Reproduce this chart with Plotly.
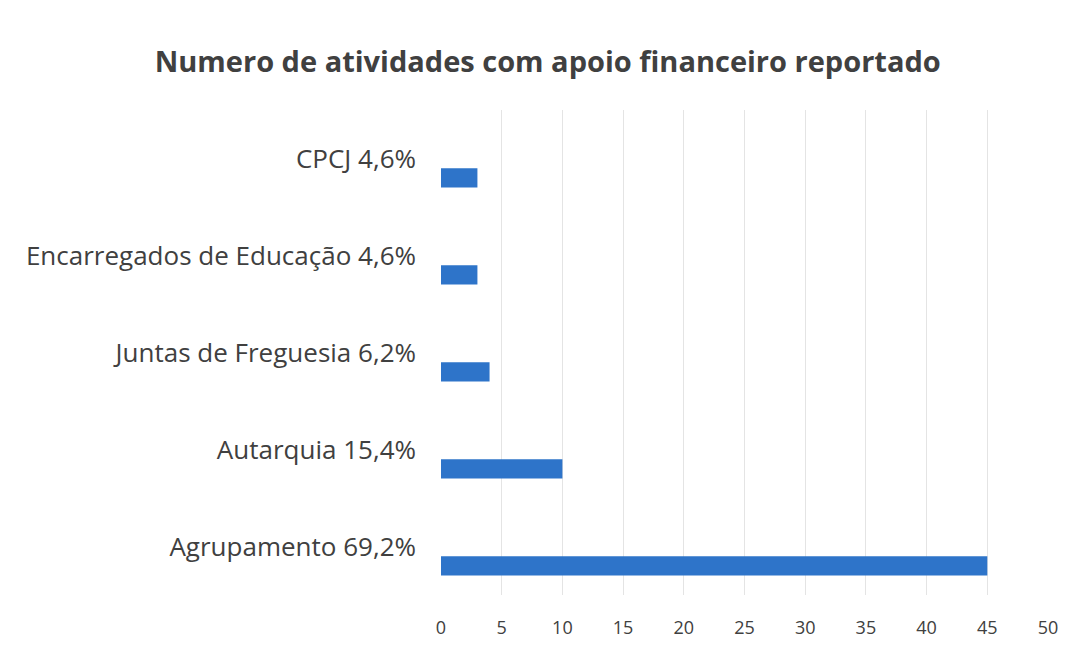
import plotly.graph_objects as go

categories = ["Agrupamento 69,2%", "Autarquia 15,4%", "Juntas de Freguesia 6,2%",
              "Encarregados de Educação 4,6%", "CPCJ 4,6%"]
values = [45, 10, 4, 3, 3]
x_ticks = [0, 5, 10, 15, 20, 25, 30, 35, 40, 45, 50]

fig = go.Figure(go.Bar(
    x=values, y=categories, orientation="h",
    marker=dict(color="#2e74c9", line=dict(width=0)),
    width=0.2, offset=-0.3,
))

fig.update_layout(
    width=1074, height=648,
    margin=dict(l=441, r=26, t=110, b=53),
    paper_bgcolor="white", plot_bgcolor="white",
    title=dict(text="<b>Numero de atividades com apoio financeiro reportado</b>",
               x=0.51, xanchor="center", y=0.905, yanchor="middle",
               font=dict(family="Open Sans", size=29, color="#404040")),
    showlegend=False,
    font=dict(family="Open Sans", color="#404040"),
)
fig.update_xaxes(range=[0, 50], tickvals=x_ticks, showgrid=True, gridcolor="#e4e4e4",
                 gridwidth=1, zeroline=False, showline=False, ticks="", automargin=False,
                 tickfont=dict(size=18, color="#404040"), ticklabelstandoff=20)
fig.update_yaxes(categoryorder="array", categoryarray=categories, range=[-0.5, 4.5],
                 showgrid=False, showline=False, ticks="", automargin=False,
                 tickfont=dict(size=26, color="#404040"), ticklabelstandoff=24)

fig.write_html("out.html")
